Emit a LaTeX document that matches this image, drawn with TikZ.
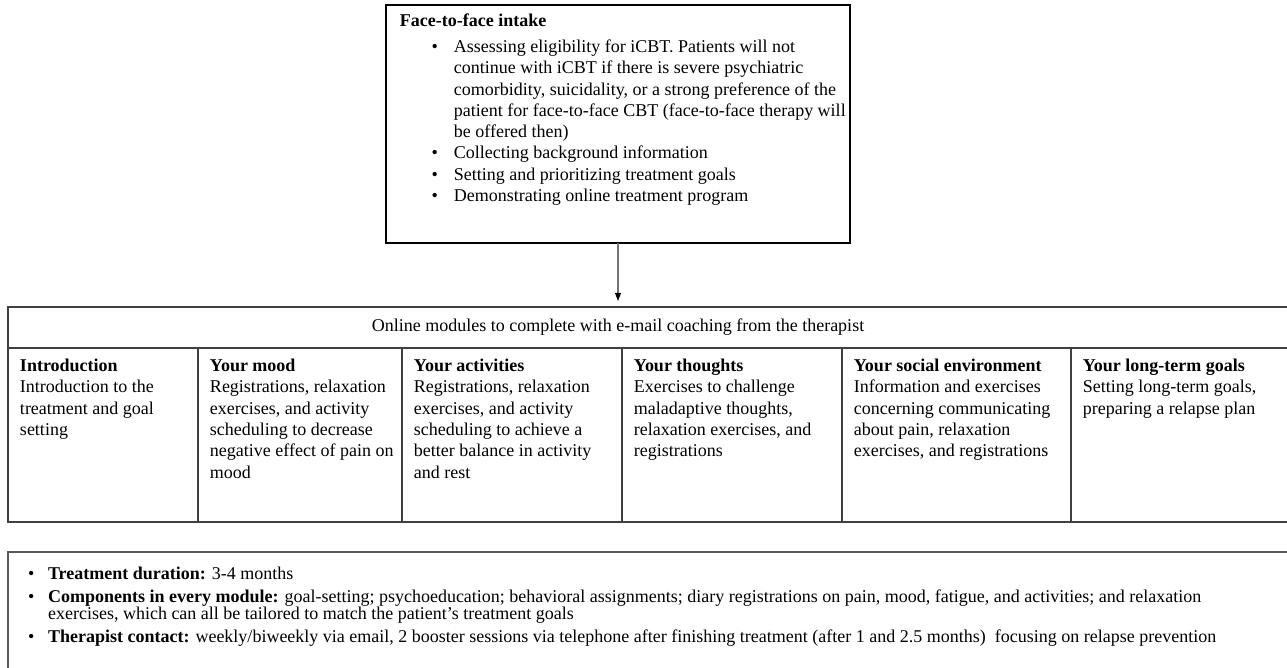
\documentclass[tikz,border=0pt]{standalone}
\usepackage{fontspec}
\setmainfont{Liberation Serif}
\usepackage{enumitem}
\usepackage{tikz}
\usetikzlibrary{arrows.meta, positioning}

\setlist[itemize]{label=\textbullet, nosep}

\begin{document}
\begin{tikzpicture}[
    x=0.6667pt, y=-0.6667pt,
    font=\fontsize{12}{14.2}\selectfont,
    box/.style={
        draw,
        line width=1pt,
        outer sep=0pt,
        anchor=north west
    },
    module/.style={
        draw=black!75,
        line width=1pt,
        outer sep=0pt,
        inner xsep=0pt,
        inner ysep=7.5pt
    },
    arrow/.style={draw=black!55, line width=0.7pt, shorten >=4pt,
        -{Triangle[length=5.5pt, width=4pt, color=black]}}
]

\useasboundingbox (0,0) rectangle (1287,668);
\clip (0,0) rectangle (1287,668);

% ===== Intake =====
\node[box, inner xsep=0pt, inner ysep=6pt] (intake) at (386,5) {\parbox[t][146.7pt][t]{309.3pt}{%
    \hspace*{9.3pt}\textbf{Face-to-face intake}\par\vspace{3pt}
    \begin{itemize}[leftmargin=45.3pt, labelsep=10.7pt]\raggedright
        \item Assessing eligibility for iCBT. Patients will not\\
              continue with iCBT if there is severe psychiatric\\
              comorbidity, suicidality, or a strong preference of the\\
              patient for face-to-face CBT (face-to-face therapy will\\
              be offered then)
        \item Collecting background information
        \item Setting and prioritizing treatment goals
        \item Demonstrating online treatment program
    \end{itemize}}};

% ===== Online modules =====
\node[box, draw=black!75, minimum width=861pt, minimum height=27.3pt] (header) at (8,307) {};
\node (headtxt) at (618,327) {Online modules to complete with e-mail coaching from the therapist};

\node[module, anchor=north west] (intro) at (header.south west) {\parbox[t][101pt][t]{126.67pt}{\raggedright\leftskip=8pt
    \textbf{Introduction}\\Introduction to the\\treatment and goal\\setting}};

\node[module, right=0pt of intro] (mood) {\parbox[t][101pt][t]{136pt}{\raggedright\leftskip=8pt
    \textbf{Your mood}\\Registrations, relaxation\\exercises, and activity\\scheduling to decrease\\negative effect of pain on\\mood}};

\node[module, right=0pt of mood] (activities) {\parbox[t][101pt][t]{146.67pt}{\raggedright\leftskip=8pt
    \textbf{Your activities}\\Registrations, relaxation\\exercises, and activity\\scheduling to achieve a\\better balance in activity\\and rest}};

\node[module, right=0pt of activities] (thoughts) {\parbox[t][101pt][t]{146.67pt}{\raggedright\leftskip=8pt
    \textbf{Your thoughts}\\Exercises to challenge\\maladaptive thoughts,\\relaxation exercises, and\\registrations}};

\node[module, right=0pt of thoughts] (social) {\parbox[t][101pt][t]{152.67pt}{\raggedright\leftskip=8pt
    \textbf{Your social environment}\\Information and exercises\\concerning communicating\\about pain, relaxation\\exercises, and registrations}};

\node[module, right=0pt of social] (goals) {\parbox[t][101pt][t]{152.67pt}{\raggedright\leftskip=8pt
    \textbf{Your long-term goals}\\Setting long-term goals,\\preparing a relapse plan}};

% ===== Summary =====
\node[box, draw=black!65, inner xsep=0pt, inner ysep=10pt] (summary) at (8,552) {\parbox[t][70pt][t]{861pt}{%
    \fontsize{12}{11.3}\selectfont
    \begin{itemize}[leftmargin=26.7pt, labelsep=9pt, itemsep=4pt]
        \item \textbf{Treatment duration:} 3-4 months
        \item \textbf{Components in every module:} goal-setting; psychoeducation; behavioral assignments; diary registrations on pain, mood, fatigue, and activities; and relaxation\newline
              exercises, which can all be tailored to match the patient’s treatment goals
        \item \textbf{Therapist contact:} weekly/biweekly via email, 2 booster sessions via telephone after finishing treatment (after 1 and 2.5 months)\ \ focusing on relapse prevention
    \end{itemize}}};

% ===== Arrow =====
\draw[arrow] (intake.south -| headtxt) -- (header.north -| headtxt);

\end{tikzpicture}
\end{document}
